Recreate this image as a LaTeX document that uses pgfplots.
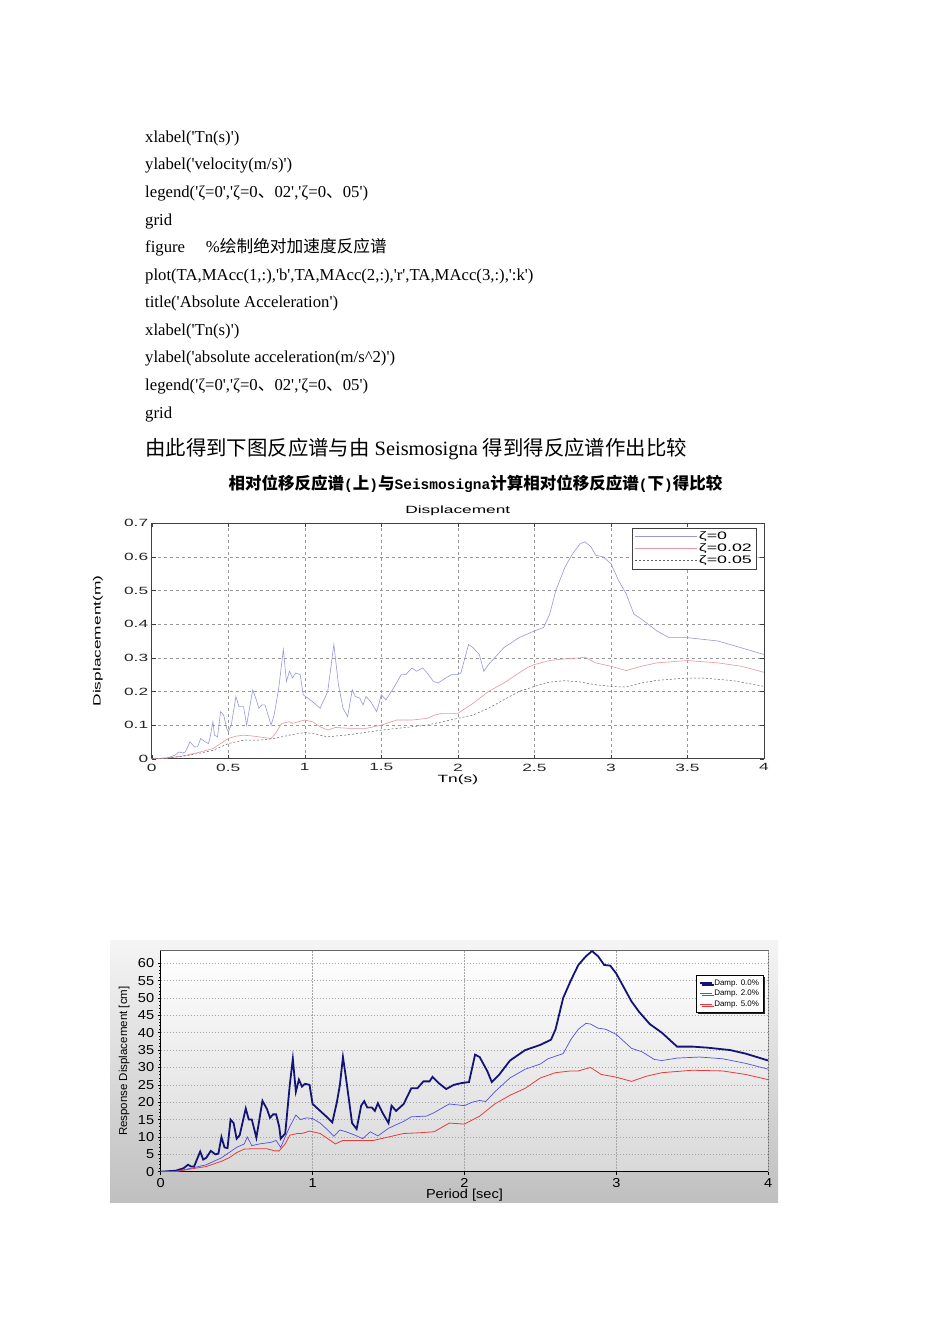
\documentclass[border=0pt]{standalone}
\usepackage{fontspec}
\setmainfont{Liberation Serif}[Ligatures=TeXOff]
\newfontfamily\cjk{Noto Sans CJK SC}
\newfontfamily\monof{Liberation Mono}
\newfontfamily\mlfont{Liberation Sans}[FakeStretch=1.65]
\newfontfamily\sgfont{Liberation Sans}[FakeStretch=1.12]
\newfontfamily\sgfontn{Liberation Sans}
\usepackage{pgfplots}
\pgfplotsset{compat=1.18}
\usetikzlibrary{shadows}

\definecolor{mlblue}{RGB}{150,150,225}
\definecolor{mlred}{RGB}{230,150,160}
\definecolor{mlgray}{RGB}{95,95,95}
\definecolor{sgnavy}{RGB}{20,20,120}
\definecolor{sgblue}{RGB}{80,80,225}
\definecolor{sgred}{RGB}{230,60,60}

\begin{document}
\begin{tikzpicture}[x=1pt,y=1pt]
\fill[white] (0,0) rectangle (950,-1344);

% code lines
\begin{scope}[every node/.style={anchor=base west, inner sep=0pt, font=\fontsize{16.7}{18}\selectfont}]
\node at (145,-142) {xlabel('Tn(s)')};
\node at (145,-169) {ylabel('velocity(m/s)')};
\node at (145,-197) {legend('ζ=0','ζ=0{\cjk 、}02','ζ=0{\cjk 、}05')};
\node at (145,-225) {grid};
\node at (145,-252) {figure\quad\ \%{\cjk 绘制绝对加速度反应谱}};
\node at (145,-280) {plot(TA,MAcc(1,:),'b',TA,MAcc(2,:),'r',TA,MAcc(3,:),':k')};
\node at (145,-307) {title('Absolute Acceleration')};
\node at (145,-335) {xlabel('Tn(s)')};
\node at (145,-362) {ylabel('absolute acceleration(m/s\textasciicircum 2)')};
\node at (145,-390) {legend('ζ=0','ζ=0{\cjk 、}02','ζ=0{\cjk 、}05')};
\node at (145,-418) {grid};
\node[font=\fontsize{20.4}{24}\selectfont] at (145,-455) {{\cjk 由此得到下图反应谱与由} Seismosigna {\cjk 得到得反应谱作出比较}};
\end{scope}
\node[inner sep=0pt, font=\bfseries] at (475.5,-484) {{\fontsize{16.5}{18}\selectfont\cjk 相对位移反应谱}{\fontsize{14.5}{18}\selectfont\monof (}{\fontsize{16.5}{18}\selectfont\cjk 上}{\fontsize{14.5}{18}\selectfont\monof )}{\fontsize{16.5}{18}\selectfont\cjk 与}{\fontsize{14.5}{18}\selectfont\monof Seismosigna}{\fontsize{16.5}{18}\selectfont\cjk 计算相对位移反应谱}{\fontsize{14.5}{18}\selectfont\monof (}{\fontsize{16.5}{18}\selectfont\cjk 下}{\fontsize{14.5}{18}\selectfont\monof )}{\fontsize{16.5}{18}\selectfont\cjk 得比较}};

% upper chart (MATLAB)
\begin{axis}[
  at={(151.7pt,-758.7pt)}, anchor=south west,
  scale only axis, width=612.3pt, height=235.4pt,
  xmin=0, xmax=4, ymin=0, ymax=0.7,
  xtick={0,0.5,1,1.5,2,2.5,3,3.5,4},
  xticklabels={0,0.5,1,1.5,2,2.5,3,3.5,4},
  ytick={0,0.1,0.2,0.3,0.4,0.5,0.6,0.7},
  yticklabels={0,0.1,0.2,0.3,0.4,0.5,0.6,0.7},
  tick label style={font=\mlfont\fontsize{10.5}{12}\selectfont, text=black!85},
  xticklabel style={yshift=-1.5pt},
  label style={font=\mlfont\fontsize{10.5}{12}\selectfont},
  title style={font=\mlfont\fontsize{10.5}{12}\selectfont, at={(axis description cs:0.5,1.028)}, anchor=center},
  title={Displacement},
  xlabel={Tn(s)}, ylabel={Displacement(m)},
  xlabel style={at={(axis description cs:0.5,-0.088)}, anchor=center},
  ylabel style={at={(axis description cs:-0.088,0.5)}, anchor=center},
  grid=major, grid style={dash pattern=on 3pt off 3pt, black!40, line width=0.5pt},
  axis line style={black!75, line width=0.7pt},
  tick align=inside, major tick length=4pt, tick style={black!75},
  legend style={at={(0.987,0.981)}, anchor=north east, draw=black!75, fill=white,
    font=\mlfont\fontsize{10.8}{12}\selectfont, row sep=0pt, inner sep=2.5pt,
    nodes={inner sep=1.5pt, text height=7.5pt, text depth=1.5pt},
    /tikz/every even column/.append style={column sep=3pt}},
  legend cell align=left,
  legend image code/.code={\draw[#1] (0pt,0pt) -- (62pt,0pt);},
]
\addplot[mlblue, line width=0.6pt] coordinates {
(0,0)(0.05,0.001)(0.1,0.002)(0.15,0.01)(0.18,0.02)(0.2,0.017)(0.22,0.02)(0.25,0.05)(0.28,0.035)(0.3,0.035)(0.32,0.06)(0.35,0.05)(0.37,0.045)(0.38,0.06)(0.4,0.11)(0.41,0.07)(0.43,0.065)(0.45,0.14)(0.47,0.13)(0.49,0.09)(0.5,0.08)(0.52,0.1)(0.55,0.185)(0.57,0.155)(0.6,0.155)(0.62,0.1)(0.66,0.205)(0.68,0.18)(0.7,0.15)(0.72,0.16)(0.74,0.16)(0.76,0.13)(0.78,0.1)(0.8,0.13)(0.83,0.21)(0.86,0.325)(0.88,0.23)(0.9,0.26)(0.92,0.24)(0.94,0.255)(0.97,0.25)(0.99,0.19)(1.05,0.17)(1.1,0.15)(1.15,0.2)(1.19,0.34)(1.22,0.22)(1.25,0.15)(1.28,0.125)(1.31,0.205)(1.33,0.185)(1.36,0.18)(1.38,0.16)(1.4,0.185)(1.43,0.17)(1.47,0.14)(1.5,0.19)(1.53,0.175)(1.58,0.21)(1.63,0.25)(1.66,0.25)(1.7,0.27)(1.73,0.26)(1.77,0.27)(1.8,0.255)(1.84,0.23)(1.87,0.225)(1.92,0.24)(1.96,0.25)(2.0,0.25)(2.02,0.255)(2.07,0.34)(2.1,0.33)(2.14,0.31)(2.17,0.26)(2.2,0.28)(2.3,0.33)(2.4,0.36)(2.5,0.38)(2.56,0.39)(2.6,0.43)(2.64,0.5)(2.7,0.57)(2.75,0.61)(2.8,0.64)(2.83,0.645)(2.87,0.63)(2.9,0.605)(2.95,0.6)(3.0,0.58)(3.05,0.53)(3.1,0.49)(3.15,0.43)(3.2,0.415)(3.3,0.38)(3.38,0.36)(3.5,0.36)(3.7,0.35)(3.85,0.33)(4.0,0.31)};
\addlegendentry{ζ=0}
\addplot[mlred, line width=0.6pt] coordinates {
(0,0)(0.1,0.002)(0.2,0.008)(0.3,0.018)(0.4,0.03)(0.45,0.045)(0.5,0.06)(0.55,0.067)(0.6,0.07)(0.65,0.068)(0.7,0.065)(0.78,0.06)(0.8,0.07)(0.85,0.105)(0.9,0.11)(0.92,0.105)(1.0,0.115)(1.05,0.11)(1.1,0.095)(1.15,0.085)(1.2,0.093)(1.3,0.09)(1.4,0.09)(1.5,0.1)(1.6,0.115)(1.7,0.115)(1.8,0.12)(1.85,0.13)(1.9,0.135)(2.0,0.135)(2.05,0.15)(2.1,0.165)(2.2,0.2)(2.3,0.225)(2.35,0.24)(2.45,0.27)(2.5,0.28)(2.6,0.292)(2.7,0.297)(2.8,0.3)(2.83,0.302)(2.9,0.285)(3.0,0.275)(3.1,0.262)(3.2,0.275)(3.3,0.285)(3.5,0.292)(3.7,0.285)(3.85,0.275)(4.0,0.257)};
\addlegendentry{ζ=0.02}
\addplot[mlgray, line width=0.5pt, dash pattern=on 2pt off 2pt] coordinates {
(0,0)(0.1,0.002)(0.2,0.007)(0.3,0.015)(0.4,0.025)(0.5,0.045)(0.6,0.055)(0.7,0.055)(0.8,0.06)(0.9,0.07)(1.0,0.078)(1.05,0.075)(1.15,0.065)(1.3,0.072)(1.5,0.085)(1.6,0.09)(1.8,0.1)(1.9,0.11)(2.0,0.12)(2.1,0.13)(2.2,0.15)(2.3,0.175)(2.4,0.2)(2.5,0.215)(2.6,0.228)(2.7,0.232)(2.8,0.228)(2.9,0.22)(3.0,0.215)(3.1,0.213)(3.2,0.225)(3.3,0.233)(3.5,0.24)(3.6,0.24)(3.8,0.232)(4.0,0.215)};
\addlegendentry{ζ=0.05}
\end{axis}

% lower chart (SeismoSignal)
\shade[top color=black!4, bottom color=black!25] (110,-940) rectangle (778,-1202);
\begin{axis}[
  at={(160.7pt,-1171.7pt)}, anchor=south west,
  scale only axis, width=607.5pt, height=221pt,
  xmin=0, xmax=4, ymin=0, ymax=63.6,
  xtick={0,1,2,3,4}, xticklabels={0,1,2,3,4},
  ytick={0,5,10,15,20,25,30,35,40,45,50,55,60},
  yticklabels={0,5,10,15,20,25,30,35,40,45,50,55,60},
  minor y tick num=4,
  axis x line*=bottom, axis y line*=left,
  axis line style={black, line width=1.3pt},
  axis background/.style={top color=white, bottom color=black!15, draw=black!60, line width=0.6pt},
  grid=major, grid style={dash pattern=on 1.5pt off 1.5pt, black!35, line width=0.5pt},
  tick align=outside, major tick length=3pt, minor tick length=1.5pt,
  tick style={black, line width=0.6pt},
  tick label style={font=\sgfont\fontsize{13}{14}\selectfont},
  xlabel={Period [sec]}, ylabel={Response Displacement [cm]},
  xlabel style={font=\sgfont\fontsize{13}{14}\selectfont, at={(axis description cs:0.5,-0.105)}, anchor=center},
  ylabel style={font=\sgfontn\fontsize{11.5}{14}\selectfont, at={(axis description cs:-0.06,0.5)}, anchor=center},
  legend style={at={(0.9918,0.89)}, anchor=north east, draw=black, fill=white,
    font=\sgfontn\fontsize{8}{9}\selectfont, row sep=0pt, inner sep=2.5pt,
    nodes={inner sep=1.5pt, text height=6pt, text depth=1.5pt},
    /tikz/every even column/.append style={column sep=2.5pt},
    drop shadow={shadow xshift=2pt, shadow yshift=-2pt, fill=black!85, opacity=1}},
  legend cell align=left,
  legend image code/.code={\draw[#1] (0pt,0pt) -- (12pt,0pt);},
]
\addplot[sgnavy, line width=1.8pt] coordinates {
(0,0)(0.1,0.3)(0.15,1)(0.18,2)(0.2,1.5)(0.22,1.5)(0.26,5.8)(0.28,3.5)(0.3,4)(0.33,6)(0.36,5)(0.38,5.2)(0.4,10)(0.42,7)(0.44,6.8)(0.46,15)(0.48,14)(0.5,9.5)(0.52,10.5)(0.56,18.2)(0.58,15)(0.6,15)(0.63,9.8)(0.67,20.4)(0.7,18)(0.72,15.5)(0.74,16.5)(0.76,16.5)(0.78,13)(0.79,9.5)(0.82,11)(0.85,25)(0.87,32.5)(0.89,23)(0.91,26.5)(0.93,24.5)(0.95,25.3)(0.98,25)(1.0,19.5)(1.05,17.5)(1.1,15.5)(1.13,14.2)(1.16,20)(1.18,25)(1.2,33)(1.22,27)(1.26,14)(1.29,12.3)(1.32,19)(1.34,20.3)(1.36,18.5)(1.39,18.5)(1.41,17.5)(1.43,19.7)(1.46,17)(1.5,14)(1.52,19)(1.55,17.5)(1.6,19.5)(1.65,24)(1.69,24)(1.73,26)(1.77,26)(1.79,27.3)(1.83,25.5)(1.88,23.8)(1.93,25)(1.98,25.5)(2.03,25.8)(2.07,33.7)(2.1,33)(2.15,29)(2.18,25.8)(2.23,28)(2.3,32)(2.4,35)(2.5,36.5)(2.57,38)(2.6,41)(2.65,50)(2.7,55)(2.75,59.5)(2.8,62)(2.84,63.5)(2.88,62)(2.92,59.5)(2.96,59.3)(3.0,57)(3.05,53)(3.1,49)(3.15,46)(3.22,42.5)(3.3,40)(3.4,36)(3.5,36)(3.6,35.7)(3.75,35)(3.85,34)(4.0,32)};
\addlegendentry{Damp. 0.0\%}
\addplot[sgblue, line width=0.7pt] coordinates {
(0,0)(0.1,0.1)(0.2,1)(0.3,2)(0.4,4)(0.45,5.5)(0.5,7)(0.55,8)(0.57,10)(0.6,7.5)(0.65,8)(0.7,8.3)(0.73,8.5)(0.76,9)(0.79,7)(0.82,10)(0.85,13)(0.89,16.3)(0.92,15)(0.96,15.5)(1.0,15.3)(1.05,14)(1.1,12)(1.14,10.2)(1.18,12)(1.22,11.5)(1.28,10.5)(1.33,9.5)(1.38,11.5)(1.43,10.3)(1.5,12.5)(1.6,14.5)(1.65,15.8)(1.75,16)(1.8,17)(1.9,19.5)(2.0,19)(2.05,20)(2.1,20.5)(2.14,20.2)(2.2,23)(2.3,27)(2.4,29.5)(2.5,31)(2.55,32.5)(2.65,34)(2.7,38)(2.75,41)(2.8,42.7)(2.83,42.5)(2.88,41.3)(2.93,41)(3.0,39.5)(3.1,35.5)(3.17,34.5)(3.25,32.3)(3.3,32)(3.4,32.7)(3.55,33)(3.7,32.5)(3.85,31.2)(4.0,29.5)};
\addlegendentry{Damp. 2.0\%}
\addplot[sgred, line width=0.8pt] coordinates {
(0,0)(0.1,0)(0.2,0.8)(0.3,1.5)(0.4,3)(0.45,4)(0.5,5.5)(0.55,6.5)(0.6,6.6)(0.7,6.6)(0.75,6)(0.78,6)(0.82,8)(0.85,10.5)(0.9,11)(0.93,11)(0.98,11.7)(1.05,11)(1.1,9.5)(1.15,8)(1.2,9)(1.3,9)(1.4,9)(1.5,10)(1.6,11)(1.7,11.2)(1.8,11.5)(1.9,14)(2.0,13.7)(2.1,16)(2.2,19.5)(2.3,22)(2.4,24)(2.5,27)(2.6,28.5)(2.7,29)(2.75,29)(2.83,30)(2.9,28)(3.0,27.2)(3.1,26)(3.2,27.5)(3.3,28.5)(3.5,29.2)(3.7,29)(3.85,28)(4.0,26.5)};
\addlegendentry{Damp. 5.0\%}
\end{axis}
\end{tikzpicture}
\end{document}
